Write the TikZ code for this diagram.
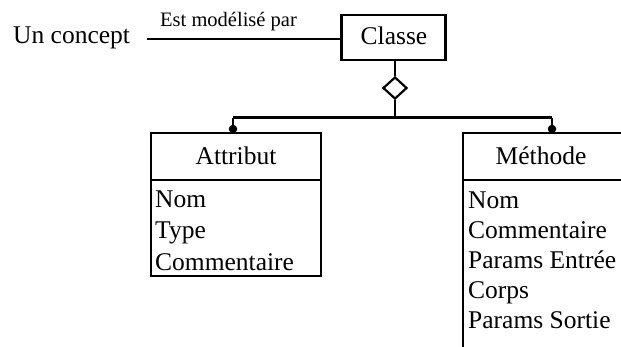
\documentclass[tikz,border=0pt]{standalone}
\usepackage{fontspec}
\setmainfont{Liberation Serif}
\usetikzlibrary{shapes.geometric}
\begin{document}
\begin{tikzpicture}[x=1pt,y=-1pt,
  boxline/.style={draw=black,line width=2.6pt},
  conn/.style={draw=black,line width=2.2pt},
  big/.style={font=\fontsize{25.5}{30}\selectfont,inner sep=0pt},
  small/.style={font=\fontsize{20.5}{24}\selectfont,inner sep=0pt},
  cell/.style={big,anchor=base west},
  dot/.style={circle,fill=black,inner sep=0pt,minimum size=8.5pt}]
\useasboundingbox (0,0) rectangle (621,346);
% Classe box
\node[boxline,rectangle,minimum width=104pt,minimum height=45pt,inner sep=0pt] (classe) at (393.5,37.5) {};
\node[big,anchor=base] (classetxt) at (394,44) {Classe};
% Un concept
\node[big,anchor=base west] (concept) at (13,43) {Un concept};
\coordinate (lstart) at (147,39);
\draw[conn] (lstart) -- (lstart -| classe.west);
\node[small,anchor=base west] (lbl) at (160,26) {Est modélisé par};
% diamond
\node[diamond,draw=black,line width=2.2pt,minimum width=24pt,minimum height=22pt,inner sep=0pt] (dia) at (395,88) {};
\coordinate (j) at (395,117.5);
\coordinate (jl) at (233,117.5);
\coordinate (jr) at (552,117.5);
\draw[conn] (classe.south -| dia.north) -- (dia.north);
\draw[conn] (dia.south) -- (j);
\draw[conn] (jl) -- (jr);
% Attribut box
\node[boxline,rectangle,minimum width=170pt,minimum height=143pt,inner sep=0pt] (attr) at (236,204.5) {};
\coordinate (ahead) at (151,180);
\draw[boxline] (ahead) -- (ahead -| attr.east);
\draw[conn] (jl) -- (jl |- attr.north);
\node[dot] (adot) at (233,129) {};
\node[big,anchor=base] (attrt) at (236,164) {Attribut};
\node[cell] (a1) at (155,207) {Nom};
\node[cell] (a2) at (155,238.5) {Type};
\node[cell] (a3) at (155,270) {Commentaire};
% Methode box (cut off at right and bottom)
\begin{scope}
\clip (0,0) rectangle (621,346);
\node[boxline,rectangle,minimum width=162pt,minimum height=240pt,inner sep=0pt] (meth) at (544,253) {};
\coordinate (mhead) at (463,180);
\draw[boxline] (mhead) -- (mhead -| meth.east);
\end{scope}
\draw[conn] (jr) -- (jr |- meth.north);
\node[dot] (mdot) at (552,129) {};
\node[big,anchor=base] (metht) at (541,164) {Méthode};
\node[cell] (m1) at (468,208) {Nom};
\node[cell] (m2) at (468,238) {Commentaire};
\node[cell] (m3) at (468,268.5) {Params Entrée};
\node[cell] (m4) at (468,298) {Corps};
\node[cell] (m5) at (468,328) {Params Sortie};
\end{tikzpicture}
\end{document}
